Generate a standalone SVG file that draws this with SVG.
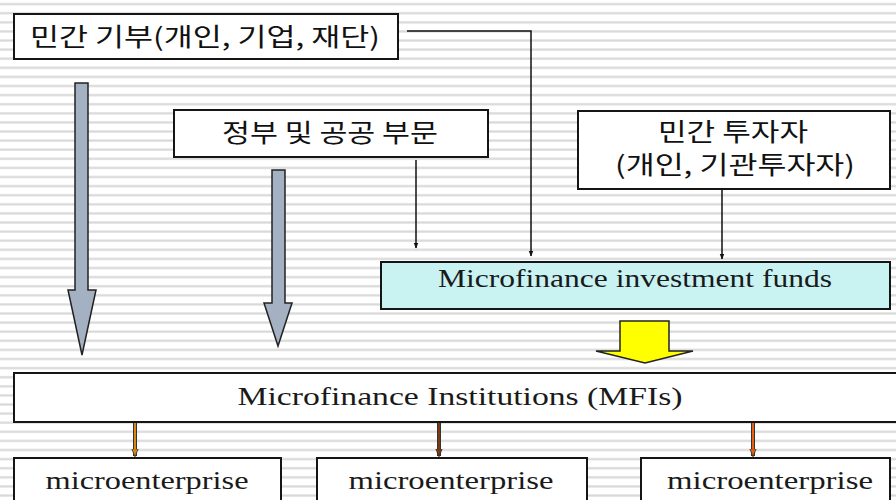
<svg xmlns="http://www.w3.org/2000/svg" width="896" height="500" viewBox="0 0 896 500">
  <defs>
    <pattern id="stripes" width="896" height="9.1" patternUnits="userSpaceOnUse">
      <rect width="896" height="9.1" fill="#ffffff"/>
      <rect y="3" width="896" height="2.2" fill="#d9d9d9"/>
    </pattern>
    <marker id="tip" viewBox="0 0 10 10" refX="9" refY="5" markerWidth="6" markerHeight="6" orient="auto" markerUnits="userSpaceOnUse">
      <path d="M0,1 L10,5 L0,9 Z" fill="#111"/>
    </marker>
    <marker id="tipOrange" viewBox="0 0 10 10" refX="9" refY="5" markerWidth="8" markerHeight="8" orient="auto" markerUnits="userSpaceOnUse">
      <path d="M0,1 L10,5 L0,9 Z" fill="#d88a10" stroke="#333" stroke-width="1"/>
    </marker>
    <marker id="tipBrown" viewBox="0 0 10 10" refX="9" refY="5" markerWidth="8" markerHeight="8" orient="auto" markerUnits="userSpaceOnUse">
      <path d="M0,1 L10,5 L0,9 Z" fill="#7a3a12" stroke="#333" stroke-width="1"/>
    </marker>
    <marker id="tipRed" viewBox="0 0 10 10" refX="9" refY="5" markerWidth="8" markerHeight="8" orient="auto" markerUnits="userSpaceOnUse">
      <path d="M0,1 L10,5 L0,9 Z" fill="#e5620e" stroke="#333" stroke-width="1"/>
    </marker>
  </defs>
  <style>
    .box { fill: #ffffff; stroke: #151515; stroke-width: 2; }
    .fund { fill: #c9f2f2; stroke: #151515; stroke-width: 2; }
    .ko { font-family: "Noto Sans CJK KR", "Noto Sans", sans-serif; font-size: 25px; fill: #111; text-anchor: middle; }
    .en { font-family: "Liberation Serif", "Times New Roman", serif; font-size: 26px; fill: #1a1a1a; text-anchor: middle; }
    .thin { fill: none; stroke: #111; stroke-width: 1.5; }
    .block { fill: #a3b1c2; stroke: #222; stroke-width: 1.5; }
    .yellow { fill: #ffff00; stroke: #222; stroke-width: 1.5; }
  </style>

  <rect width="896" height="500" fill="url(#stripes)"/>

  <!-- connectors -->
  <g id="connectors">
    <polyline class="thin" points="407,31 531,31 531,256" marker-end="url(#tip)"/>
    <line class="thin" x1="416" y1="160" x2="416" y2="248" marker-end="url(#tip)"/>
    <line class="thin" x1="722" y1="190" x2="722" y2="259" marker-end="url(#tip)"/>
    <path class="block" d="M75,83 H88 V290 H96 L82,355 L68,290 H75 Z"/>
    <path class="block" d="M272,170 H285 V303 H292 L278,346 L264,303 H272 Z"/>
    <path class="yellow" d="M620,321 H669 V351 H693 L645,363 L596,351 H620 Z"/>
    <line x1="135" y1="423" x2="135" y2="456" stroke="#333" stroke-width="4"/>
    <line x1="135" y1="423" x2="135" y2="456" stroke="#d88a10" stroke-width="2" marker-end="url(#tipOrange)"/>
    <line x1="439" y1="423" x2="439" y2="456" stroke="#333" stroke-width="4"/>
    <line x1="439" y1="423" x2="439" y2="456" stroke="#7a3a12" stroke-width="2" marker-end="url(#tipBrown)"/>
    <line x1="753" y1="423" x2="753" y2="456" stroke="#333" stroke-width="4"/>
    <line x1="753" y1="423" x2="753" y2="456" stroke="#e5620e" stroke-width="2" marker-end="url(#tipRed)"/>
  </g>

  <g id="private-donation">
    <rect class="box" x="14" y="14" width="384" height="45"/>
    <text class="ko" x="205" y="46" textLength="350" lengthAdjust="spacingAndGlyphs">민간 기부(개인, 기업, 재단)</text>
  </g>

  <g id="public-sector">
    <rect class="box" x="174" y="110" width="314" height="47"/>
    <text class="ko" x="330" y="142" textLength="216" lengthAdjust="spacingAndGlyphs">정부 및 공공 부문</text>
  </g>

  <g id="private-investors">
    <rect class="box" x="578" y="111" width="312" height="78"/>
    <text class="ko" x="733" y="141" textLength="150" lengthAdjust="spacingAndGlyphs">민간 투자자</text>
    <text class="ko" x="735" y="174" textLength="240" lengthAdjust="spacingAndGlyphs">(개인, 기관투자자)</text>
  </g>

  <g id="investment-funds">
    <rect class="fund" x="381" y="262" width="509" height="47"/>
    <text class="en" x="635" y="287" textLength="394" lengthAdjust="spacingAndGlyphs">Microfinance investment funds</text>
  </g>

  <g id="mfis">
    <rect class="box" x="14" y="373" width="900" height="49"/>
    <text class="en" x="460" y="405" textLength="445" lengthAdjust="spacingAndGlyphs">Microfinance Institutions (MFIs)</text>
  </g>

  <g id="microenterprise-1">
    <rect class="box" x="14" y="458" width="267" height="60"/>
    <text class="en" x="147" y="489" textLength="203" lengthAdjust="spacingAndGlyphs">microenterprise</text>
  </g>

  <g id="microenterprise-2">
    <rect class="box" x="317" y="458" width="270" height="60"/>
    <text class="en" x="451" y="489" textLength="205" lengthAdjust="spacingAndGlyphs">microenterprise</text>
  </g>

  <g id="microenterprise-3">
    <rect class="box" x="641" y="458" width="249" height="60"/>
    <text class="en" x="770" y="489" textLength="206" lengthAdjust="spacingAndGlyphs">microenterprise</text>
  </g>
</svg>
